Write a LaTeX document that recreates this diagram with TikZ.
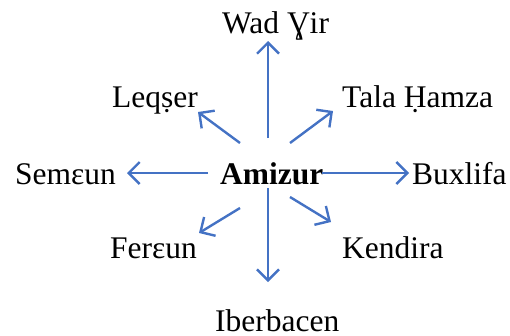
\documentclass[tikz,border=0pt]{standalone}
\usepackage{fontspec}
\setmainfont{Liberation Serif}
\usetikzlibrary{arrows.meta}
\definecolor{arrblue}{RGB}{68,114,196}
\tikzset{
  place/.style={anchor=base west, inner sep=0pt, font=\fontsize{31.5}{36}\selectfont},
  arr/.style={draw=arrblue, line width=2.4pt, -{Straight Barb[length=11pt, width=22pt, line width=2.4pt]}}
}
\begin{document}
\begin{tikzpicture}[x=1pt,y=-1pt]
                \useasboundingbox (0,0) rectangle (510,335);
                \node[place] (amizur) at (220,184) {\textbf{Amizur}};
                \node[place] (wadghir) at (222,33) {Wad Ɣir};
                \node[place] (leqser) at (112,107) {Leqṣer};
                \node[place] (tala) at (342,107) {Tala Ḥamza};
                \node[place] (semeun) at (15,184) {Semɛun};
                \node[place] (buxlifa) at (412,184) {Buxlifa};
                \node[place] (fereun) at (110,258) {Ferɛun};
                \node[place] (kendira) at (342,258) {Kendira};
                \node[place] (iberbacen) at (215,331) {Iberbacen};
                \coordinate (n0) at (268,138); \coordinate (n1) at (268,41);
                \coordinate (nw0) at (240,143); \coordinate (nw1) at (198,112);
                \coordinate (ne0) at (290,143); \coordinate (ne1) at (333,111);
                \coordinate (w0) at (208,173); \coordinate (w1) at (127,173);
                \coordinate (e0) at (322,173); \coordinate (e1) at (409,173);
                \coordinate (sw0) at (240,208); \coordinate (sw1) at (199,233);
                \coordinate (se0) at (290,197); \coordinate (se1) at (331,222);
                \coordinate (s0) at (268,188); \coordinate (s1) at (268,282);
                \draw[arr] (n0) -- (n1);
                \draw[arr] (nw0) -- (nw1);
                \draw[arr] (ne0) -- (ne1);
                \draw[arr] (w0) -- (w1);
                \draw[arr] (e0) -- (e1);
                \draw[arr] (sw0) -- (sw1);
                \draw[arr] (se0) -- (se1);
                \draw[arr] (s0) -- (s1);
            \end{tikzpicture}
\end{document}
